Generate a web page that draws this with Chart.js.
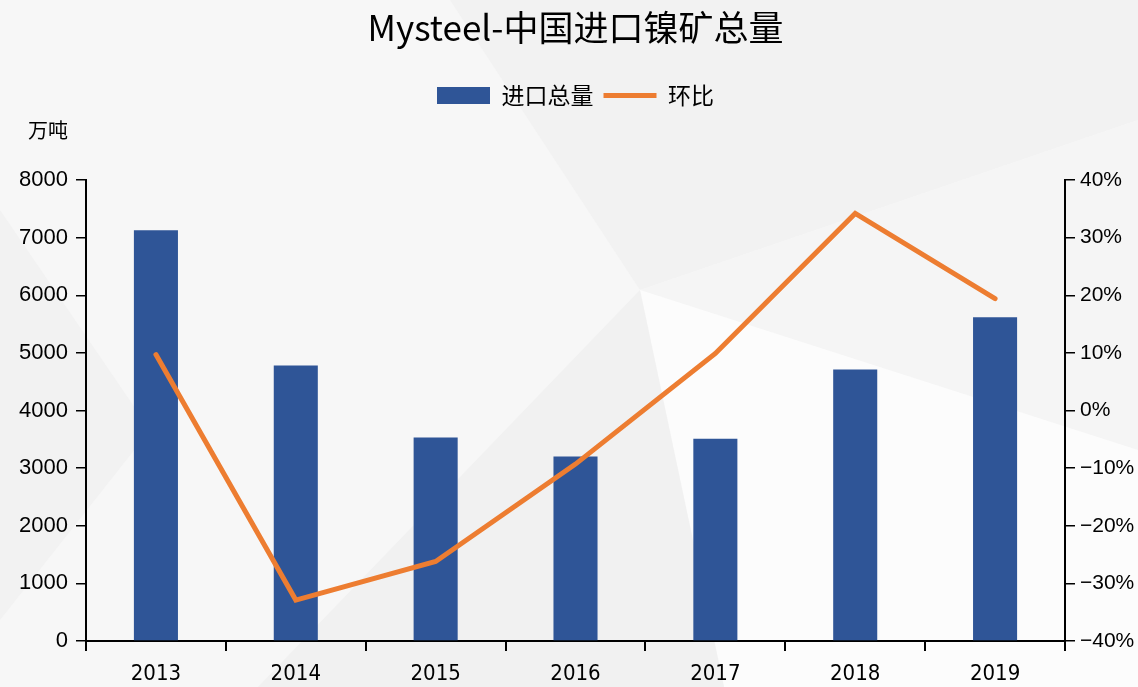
<!DOCTYPE html>
<html>
<head>
<meta charset="utf-8">
<script src="https://cdn.jsdelivr.net/npm/chart.js@4.4.1/dist/chart.umd.min.js"></script>
<style>
  html, body { margin: 0; padding: 0; background: #f7f7f7; }
  #chart { display: block; }
</style>
</head>
<body>
<canvas id="chart" width="1138" height="687"></canvas>
<script>
// 数据
const years = ['2013', '2014', '2015', '2016', '2017', '2018', '2019'];
const importTotal = [7130, 4780, 3530, 3200, 3510, 4710, 5620];   // 万吨
const momChange = [9.7, -32.9, -26.2, -9.3, 9.9, 34.2, 19.4];      // %
const leftTicks = [0, 8000, 1000];
const rightTicks = [-40, 40, 10];

const BLUE = '#2f5597';
const ORANGE = '#ed7d31';
const CJK = '"Noto Sans CJK SC", sans-serif';

// 背景的浅灰色几何块
const bgPlugin = {
    id: 'bg',
    beforeDraw(chart) {
        const c = chart.ctx;
        const polys = [
            ['#f7f7f7', [[0, 0], [1138, 0], [1138, 687], [0, 687]]],
            ['#f2f2f2', [[450, 0], [1138, 0], [1138, 120], [640, 290]]],
            ['#f5f5f5', [[640, 290], [1138, 120], [1138, 450]]],
            ['#fcfcfc', [[640, 290], [1138, 450], [1138, 687], [724, 687]]],
            ['#f1f1f1', [[640, 290], [724, 687], [258, 687]]],
            ['#f2f2f2', [[0, 210], [150, 430], [0, 620]]]
        ];
        c.save();
        polys.forEach(([col, pts]) => {
            c.fillStyle = col;
            c.beginPath();
            pts.forEach((p, i) => i ? c.lineTo(p[0], p[1]) : c.moveTo(p[0], p[1]));
            c.closePath();
            c.fill();
        });
        c.restore();
    },
    afterDraw(chart) {
        // 单位
        const c = chart.ctx;
        c.save();
        c.font = '20px ' + CJK;
        c.fillStyle = '#000';
        c.textBaseline = 'middle';
        c.fillText('万吨', 28, 130);
        c.restore();
    }
};

const ctx = document.getElementById('chart').getContext('2d');
new Chart(ctx, {
    type: 'bar',
    data: {
        labels: years,
        datasets: [{
            type: 'bar',
            label: '进口总量',
            data: importTotal,
            backgroundColor: BLUE,
            borderWidth: 0,
            categoryPercentage: 1,
            barPercentage: 0.315,
            yAxisID: 'y',
            order: 1
        }, {
            type: 'line',
            label: '环比',
            data: momChange,
            borderColor: ORANGE,
            backgroundColor: ORANGE,
            borderWidth: 5,
            borderCapStyle: 'round',
            pointRadius: 0,
            tension: 0,
            yAxisID: 'y1',
            order: 0
        }]
    },
    options: {
        responsive: false,
        animation: false,
        layout: { padding: 0 },
        plugins: {
            title: {
                display: true,
                text: 'Mysteel-中国进口镍矿总量',
                fullSize: false,
                color: '#000',
                font: { family: CJK, size: 35, weight: 'normal' },
                padding: { top: 7, bottom: 25 }
            },
            subtitle: {
                display: true,
                text: ' ',
                weight: 500,
                fullSize: false,
                font: { size: 10 },
                padding: { top: 0, bottom: 51 }
            },
            legend: {
                display: true,
                fullSize: false,
                labels: {
                    color: '#000',
                    font: { family: CJK, size: 23 },
                    usePointStyle: true,
                    pointStyleWidth: 53,
                    boxHeight: 17,
                    padding: 10,
                    generateLabels(chart) {
                        const items = Chart.defaults.plugins.legend.labels.generateLabels(chart);
                        items.sort((a, b) => a.datasetIndex - b.datasetIndex);
                        items.forEach(it => {
                            if (it.datasetIndex === 0) {
                                it.pointStyle = 'rect';
                                it.fillStyle = BLUE;
                                it.lineWidth = 0;
                            } else {
                                it.pointStyle = 'line';
                                it.strokeStyle = ORANGE;
                                it.lineWidth = 5;
                            }
                        });
                        return items;
                    }
                }
            },
            tooltip: { enabled: false }
        },
        scales: {
            x: {
                afterFit(s) { s.height = 46; },
                grid: { offset: true, drawOnChartArea: false, tickLength: 10, color: '#000', lineWidth: 2 },
                border: { color: '#000', width: 2 },
                ticks: { color: '#000', padding: 10, font: { family: '"DejaVu Sans Condensed", "DejaVu Sans"', size: 22 } }
            },
            y: {
                position: 'left',
                min: leftTicks[0], max: leftTicks[1],
                afterFit(s) { s.width = 86; },
                grid: { drawOnChartArea: false, tickLength: 10, color: '#000', lineWidth: 1.5 },
                border: { color: '#000', width: 2 },
                ticks: {
                    stepSize: leftTicks[2], color: '#000', padding: 8,
                    font: { family: '"Liberation Sans", Arial', size: 22 },
                    callback: v => String(v)
                }
            },
            y1: {
                position: 'right',
                min: rightTicks[0], max: rightTicks[1],
                afterFit(s) { s.width = 73; },
                grid: { drawOnChartArea: false, tickLength: 10, color: '#000', lineWidth: 1.5 },
                border: { color: '#000', width: 2 },
                ticks: {
                    stepSize: rightTicks[2], color: '#000', padding: 5,
                    font: { family: '"Liberation Sans", Arial', size: 21 },
                    callback: v => (v < 0 ? '\u2212' : '') + Math.abs(Math.round(v)) + '%'
                }
            }
        }
    },
    plugins: [bgPlugin]
});
</script>
</body>
</html>
